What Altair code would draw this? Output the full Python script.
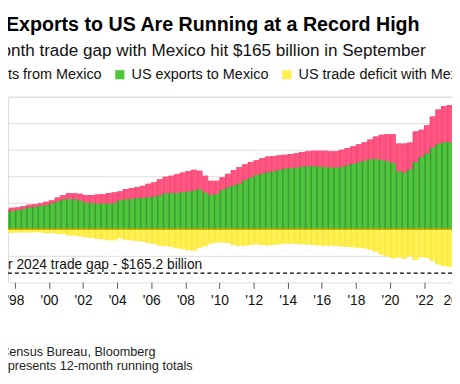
import altair as alt
import pandas as pd

TITLE = "Mexico's Exports to US Are Running at a Record High"
SUBTITLE = "12-month trade gap with Mexico hit $165 billion in September"
SERIES = ["US imports from Mexico", "US exports to Mexico", "US trade deficit with Mexico"]
COLORS = ["#ff5580", "#4ec63c", "#fff04e"]
STRIPES = ["#f44a78", "#3c9c36", "#f6e644"]
ANNOTATION = "September 2024 trade gap - $165.2 billion"
GAP_VALUE = [-165.2]
FOOTER = ["Source: Census Bureau, Bloomberg", "Note: Data represents 12-month running totals"]
YEAR_TICKS = list(range(1996, 2025, 2))
Y_GRID = [-100, 0, 100, 200, 300, 400, 500]

# 12-month running totals, $ billions, three readings per year (Jan, May, Sep)
imports = [
    70.4, 75.9, 81.5,   83.3, 88.1, 92.6,   94.4, 98.1, 104.4,  109.3, 120.4, 129.6,
    137.0, 135.9, 134.1, 129.6, 129.6, 131.5, 133.3, 137.0, 139.6, 143.3, 151.9, 156.3,
    160.0, 164.8, 171.5, 177.8, 188.9, 198.1, 201.9, 207.4, 214.8, 220.4, 224.8, 221.1,
    201.9, 183.3, 183.3, 196.3, 209.3, 224.1, 235.2, 245.9, 253.7, 260.4, 268.5, 274.8,
    277.0, 279.3, 281.5, 284.1, 287.0, 291.5, 294.4, 295.9, 296.3, 296.3, 294.8, 294.4,
    300.0, 306.3, 313.7, 321.1, 328.5, 338.9, 350.0, 356.3, 359.3, 358.1, 323.3, 324.1,
    327.8, 368.5, 375.2, 392.6, 425.9, 451.9, 464.8, 468.5,
]
exports = [
    61.1, 64.8, 68.5,   72.2, 75.9, 81.5,   83.3, 87.0, 89.6,   96.3, 103.7, 111.9,
    113.7, 113.0, 108.1, 100.0, 98.1, 96.3,  96.3, 96.3, 98.1,   109.3, 113.0, 114.8,
    117.4, 118.5, 120.0, 123.0, 127.8, 135.2, 135.9, 135.9, 140.7, 141.5, 145.2, 150.7,
    137.8, 129.6, 133.3, 148.1, 157.4, 164.8, 172.2, 184.1, 194.4, 204.4, 209.3, 214.1,
    218.5, 223.3, 228.5, 230.7, 232.6, 235.6, 237.0, 237.0, 235.9, 234.4, 233.3, 232.2,
    235.2, 240.7, 246.3, 251.9, 257.4, 263.0, 265.6, 261.1, 257.4, 249.3, 218.5, 213.0,
    225.9, 253.0, 272.2, 285.2, 307.4, 320.4, 327.0, 327.0,
]
periods = [y + k / 3 for y in range(1997, 2024) for k in range(3)][: len(imports)]

df = pd.DataFrame({"t": periods, "imports": imports, "exports": exports})
FONT = "Liberation Sans"

xscale = alt.Scale(domain=[1997, 2024], range=[-10.36, 458.34], nice=False, zero=False)
xaxis = alt.Axis(
    values=YEAR_TICKS,
    labelExpr='datum.value == 2024 ? "2024" : "\'" + substring(toString(datum.value), 2)',
    grid=False, domain=False, ticks=True, tickSize=6, tickColor="#555555", tickWidth=1,
    labelFont=FONT, labelFontSize=14, labelColor="#111111", labelPadding=6,
    labelFlush=False, labelOverlap=False, title=None,
)
yscale = alt.Scale(domain=[-200, 500], nice=False, zero=False)
yaxis = alt.Axis(values=Y_GRID, grid=True, gridColor="#dcdcdc", gridWidth=1,
                 labels=False, ticks=False, domain=False, title=None)
legend = alt.Legend(
    orient="none", legendX=-80.5, legendY=-30.2, direction="horizontal", title=None,
    symbolType="square", symbolSize=86.5, symbolStrokeWidth=0, labelFont=FONT,
    labelFontSize=14.7, labelColor="#111111", labelOffset=4.5, columnPadding=11,
    padding=0, labelLimit=300,
)
cscale = alt.Scale(domain=SERIES, range=COLORS)

base = alt.Chart(df).transform_calculate(
    t1="datum.t + 1/3", tg="datum.t + 0.09", ts="datum.t - 0.01",
    deficit="datum.exports - datum.imports",
)

layers = []
for i, field in enumerate(["imports", "exports", "deficit"]):
    dark = base.mark_bar(color=STRIPES[i], clip=True).encode(
        x=alt.X("ts:Q", scale=xscale, axis=xaxis), x2="t1:Q",
        y=alt.Y(f"{field}:Q", scale=yscale, axis=yaxis, stack=None), y2=alt.datum(0),
    )
    light = base.transform_calculate(key=f"'{SERIES[i]}'").mark_bar(clip=True).encode(
        x=alt.X("tg:Q", scale=xscale, axis=xaxis), x2="t1:Q",
        y=alt.Y(f"{field}:Q", scale=yscale, axis=yaxis, stack=None), y2=alt.datum(0),
        color=alt.Color("key:N", scale=cscale, legend=legend),
    )
    layers += [dark, light]

zero = alt.Chart(pd.DataFrame({"v": [0]})).mark_rule(color="#d4a900", strokeWidth=1.5).encode(
    y=alt.Y("v:Q", scale=yscale, axis=yaxis))
gap_df = pd.DataFrame({"v": GAP_VALUE, "label": [ANNOTATION]})
dashed = alt.Chart(gap_df).mark_rule(color="#000000", strokeWidth=1.3, strokeDash=[4, 3]).encode(
    y=alt.Y("v:Q", scale=yscale, axis=yaxis))
annot = alt.Chart(gap_df).mark_text(
    align="right", baseline="alphabetic", font=FONT, fontSize=14, color="#111111", dy=-4.6
).encode(x=alt.value(197.7), y=alt.Y("v:Q", scale=yscale, axis=yaxis), text="label:N")


def text_layer(txt, x, y, size, weight="normal", color="#111111"):
    return alt.Chart(pd.DataFrame({"txt": [txt]})).mark_text(
        align="right", baseline="alphabetic", font=FONT, fontSize=size,
        fontWeight=weight, color=color,
    ).encode(x=alt.value(x), y=alt.value(y), text="txt:N")


texts = [
    text_layer(TITLE, 419, -66.7, 20, "bold", "#000000"),
    text_layer(SUBTITLE, 425.3, -41.7, 17.4),
    text_layer(FOOTER[0], 150.3, 263.5, 12.9, color="#222222"),
    text_layer(FOOTER[1], 188, 278, 12.9, color="#222222"),
]

chart = alt.layer(*layers, zero, dashed, annot, *texts).properties(
    width=452, height=189,
    padding={"left": 0, "top": 87, "right": 0, "bottom": 94},
    autosize=alt.AutoSizeParams(type="none"),
).configure_view(stroke=None).configure(background="white")

chart.save("out.html", embed_options={"renderer": "svg", "actions": False})
